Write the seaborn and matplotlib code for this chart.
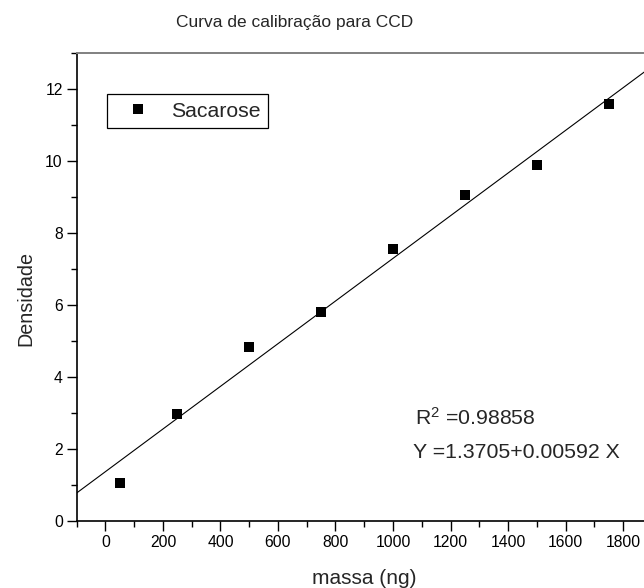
import matplotlib
matplotlib.use("Agg")
import matplotlib.pyplot as plt
import seaborn as sns
import numpy as np
import pandas as pd
from matplotlib.ticker import MultipleLocator

# Data
massa = [50, 250, 500, 750, 1000, 1250, 1500, 1750]
densidade = [1.05, 2.97, 4.84, 5.79, 7.55, 9.06, 9.87, 11.58]
serie = "Sacarose"
intercepto = 1.3705
inclinacao = 0.00592
r2_text = "R$^{2}$ =0.98858"
eq_text = "Y =1.3705+0.00592 X"
titulo = "Curva de calibração para CCD"
xlabel = "massa (ng)"
ylabel = "Densidade"
xticks = [0, 200, 400, 600, 800, 1000, 1200, 1400, 1600, 1800]
yticks = [0, 2, 4, 6, 8, 10, 12]
xlim = (-100, 1900)
ylim = (0, 13)

sns.set_theme(style="ticks")
plt.rcParams['font.family'] = ['Liberation Sans', 'DejaVu Sans']
plt.rcParams['mathtext.fontset'] = 'custom'
plt.rcParams['mathtext.rm'] = 'Liberation Sans'
plt.rcParams['mathtext.it'] = 'Liberation Sans'
plt.rcParams['mathtext.default'] = 'rm'

W, H = 644, 588
fig = plt.figure(figsize=(W / 100, H / 100), dpi=100)
left_px, right_px, top_px, bot_px = 76.7, 651.8, 52.7, 521.0
ax = fig.add_axes([left_px / W, 1 - bot_px / H, (right_px - left_px) / W, (bot_px - top_px) / H])

df = pd.DataFrame({"massa": massa, "densidade": densidade, "serie": serie})

# fit line across the axis range
xl = np.array(xlim, dtype=float)
line_df = pd.DataFrame({"x": xl, "y": intercepto + inclinacao * xl})
sns.lineplot(data=line_df, x="x", y="y", ax=ax, color="black", linewidth=0.8, legend=False)

sns.scatterplot(data=df, x="massa", y="densidade", hue="serie", palette=["black"],
                marker="s", s=52, edgecolor="black", linewidth=0, ax=ax, zorder=3)

ax.set_xlim(*xlim)
ax.set_ylim(*ylim)
ax.set_xticks(xticks)
ax.set_yticks(yticks)
ax.xaxis.set_minor_locator(MultipleLocator(100))
ax.yaxis.set_minor_locator(MultipleLocator(1))
ax.tick_params(which="major", direction="out", length=7, width=1.0, color="black",
               labelsize=11.3, pad=3, labelcolor="black")
ax.tick_params(which="minor", direction="out", length=4, width=1.0, color="black")

for s in ["left", "bottom"]:
    ax.spines[s].set_color("black")
    ax.spines[s].set_linewidth(1.2)
ax.spines["top"].set_visible(True)
ax.spines["top"].set_color("#808080")
ax.spines["top"].set_linewidth(1.4)
ax.spines["right"].set_visible(True)
ax.spines["right"].set_color("black")
ax.spines["right"].set_linewidth(1.2)

ax.set_xlabel("")
ax.set_ylabel("")
fig.text(364 / W, 1 - 578 / H, xlabel, ha="center", va="center", fontsize=15)
fig.text(26 / W, 1 - 298 / H, ylabel, ha="center", va="center", rotation=90, fontsize=14.2)
fig.text(295 / W, 1 - 22 / H, titulo, ha="center", va="center", fontsize=12.5)

ax.text((415 - left_px) / (right_px - left_px), (bot_px - 418) / (bot_px - top_px), r2_text,
        transform=ax.transAxes, ha="left", va="center", fontsize=15.3)
ax.text((413 - left_px) / (right_px - left_px), (bot_px - 452) / (bot_px - top_px), eq_text,
        transform=ax.transAxes, ha="left", va="center", fontsize=15.3)

leg = ax.legend(loc="upper left",
                bbox_to_anchor=((107.3 - left_px) / (right_px - left_px), (bot_px - 94.3) / (bot_px - top_px)),
                borderaxespad=0, frameon=True, fancybox=False, fontsize=15.3,
                borderpad=0.35, handlelength=2.2, handletextpad=0.45, markerscale=1.0)
leg.get_frame().set_edgecolor("black")
leg.get_frame().set_linewidth(0.9)
leg.get_frame().set_alpha(1)

fig.savefig("out.png", dpi=100)
